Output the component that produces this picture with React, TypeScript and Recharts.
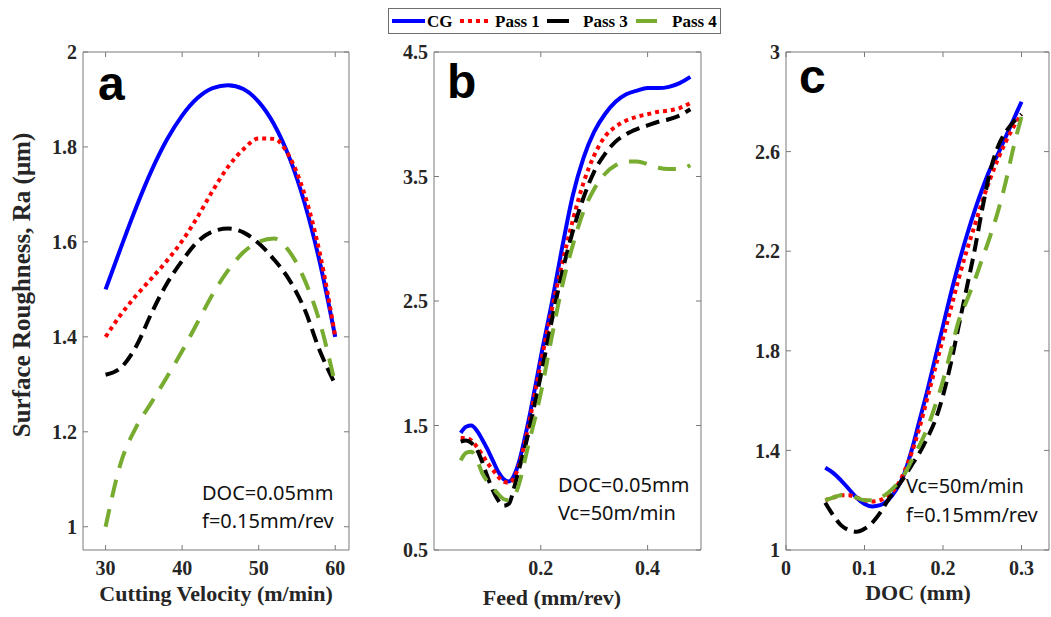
import React from 'react';
import { LineChart, Line, XAxis, YAxis, ReferenceLine } from 'recharts';

// ---- panel a: cutting velocity ----
const velocity = [30, 32, 34, 36, 38, 40, 42, 44, 46, 48, 50, 52, 54, 56, 58, 60];
const velCG = [1.5, 1.588, 1.673, 1.75, 1.815, 1.866, 1.903, 1.924, 1.93, 1.922, 1.895, 1.848, 1.778, 1.682, 1.556, 1.4];
const velPass1 = [1.4, 1.447, 1.487, 1.523, 1.56, 1.602, 1.652, 1.708, 1.758, 1.795, 1.818, 1.817, 1.78, 1.7, 1.575, 1.4];
const velPass3 = [1.32, 1.335, 1.38, 1.45, 1.512, 1.56, 1.6, 1.622, 1.628, 1.62, 1.597, 1.563, 1.52, 1.458, 1.37, 1.3];
const velPass4 = [1.0, 1.135, 1.21, 1.262, 1.315, 1.37, 1.43, 1.49, 1.54, 1.578, 1.6, 1.607, 1.58, 1.52, 1.43, 1.3];

// ---- panel b: feed ----
const feed = [0.05, 0.06, 0.07, 0.08, 0.09, 0.1, 0.11, 0.12, 0.13, 0.14, 0.15, 0.16, 0.17, 0.18, 0.19, 0.2,
  0.22, 0.24, 0.26, 0.28, 0.3, 0.32, 0.34, 0.36, 0.38, 0.4, 0.42, 0.44, 0.46, 0.48];
const feedCG = [1.44, 1.49, 1.5, 1.46, 1.39, 1.31, 1.22, 1.13, 1.07, 1.05, 1.1, 1.22, 1.4, 1.6, 1.82, 2.05,
  2.47, 2.93, 3.35, 3.65, 3.86, 4.0, 4.1, 4.16, 4.19, 4.21, 4.21, 4.22, 4.25, 4.3];
const feedPass1 = [1.4, 1.4, 1.38, 1.33, 1.27, 1.2, 1.145, 1.09, 1.05, 1.04, 1.08, 1.19, 1.36, 1.56, 1.78, 2.0,
  2.42, 2.8, 3.15, 3.45, 3.67, 3.82, 3.9, 3.95, 3.98, 4.0, 4.02, 4.03, 4.05, 4.09];
const feedPass3 = [1.37, 1.38, 1.36, 1.31, 1.21, 1.09, 0.98, 0.9, 0.855, 0.87, 1.0, 1.16, 1.32, 1.5, 1.7, 1.9,
  2.33, 2.73, 3.06, 3.33, 3.54, 3.68, 3.78, 3.84, 3.88, 3.91, 3.94, 3.96, 3.99, 4.04];
const feedPass4 = [1.22, 1.28, 1.29, 1.23, 1.12, 1.05, 1.0, 0.95, 0.91, 0.9, 0.93, 1.04, 1.22, 1.4, 1.57, 1.76,
  2.2, 2.62, 2.95, 3.22, 3.4, 3.52, 3.59, 3.62, 3.62, 3.6, 3.57, 3.56, 3.56, 3.59];

// ---- panel c: depth of cut ----
const doc = [0.05, 0.06, 0.07, 0.08, 0.09, 0.1, 0.11, 0.12, 0.13, 0.14, 0.15, 0.16, 0.17, 0.18, 0.19, 0.2,
  0.21, 0.22, 0.23, 0.24, 0.25, 0.26, 0.27, 0.28, 0.29, 0.3];
const docCG = [1.33, 1.31, 1.28, 1.245, 1.21, 1.185, 1.175, 1.18, 1.2, 1.24, 1.3, 1.4, 1.52, 1.64, 1.77, 1.9,
  2.03, 2.15, 2.26, 2.36, 2.45, 2.53, 2.59, 2.66, 2.73, 2.8];
const docPass1 = [1.2, 1.21, 1.22, 1.22, 1.21, 1.2, 1.195, 1.2, 1.22, 1.25, 1.31, 1.39, 1.49, 1.61, 1.73, 1.85,
  1.97, 2.09, 2.2, 2.3, 2.4, 2.49, 2.57, 2.64, 2.7, 2.75];
const docPass3 = [1.19, 1.14, 1.1, 1.08, 1.073, 1.085, 1.11, 1.15, 1.2, 1.245, 1.29, 1.34, 1.39, 1.45, 1.52, 1.62,
  1.75, 1.9, 2.05, 2.2, 2.37, 2.52, 2.62, 2.68, 2.72, 2.75];
const docPass4 = [1.2, 1.21, 1.22, 1.22, 1.21, 1.2, 1.2, 1.21, 1.23, 1.26, 1.3, 1.36, 1.42, 1.49, 1.58, 1.68,
  1.8, 1.92, 2.0, 2.08, 2.17, 2.26, 2.36, 2.48, 2.62, 2.74];

const SERIES = [
  { key: 'cg', name: 'CG', color: '#0000ff', dash: undefined as string | undefined },
  { key: 'p1', name: 'Pass 1', color: '#ff0000', dash: '4 4' },
  { key: 'p3', name: 'Pass 3', color: '#000000', dash: '14 7' },
  { key: 'p4', name: 'Pass 4', color: '#77ac30', dash: '18 12' },
];

const rows = (x: number[], cg: number[], p1: number[], p3: number[], p4: number[]) =>
  x.map((v, i) => ({ x: v, cg: cg[i], p1: p1[i], p3: p3[i], p4: p4[i] }));

const AXIS = '#7a7a7a';
const TICK_TXT = '#262626';
const SERIF = '"Liberation Serif", "Times New Roman", serif';
const H = 617;
const Y_W = 60;
const X_H = 60;

interface PanelProps {
  left: number;
  width: number;
  margin: { top: number; right: number; bottom: number; left: number };
  data: any[];
  xDomain: [number, number];
  xTicks: number[];
  yDomain: [number, number];
  yTicks: number[];
}

const Panel: React.FC<PanelProps> = ({ left, width, margin, data, xDomain, xTicks, yDomain, yTicks }) => {
  const pl = margin.left + Y_W;
  const pr = width - margin.right;
  const pt = margin.top;
  const pb = H - margin.bottom - X_H;
  const tickFont = { fontFamily: SERIF, fontWeight: 700, fontSize: 20, fill: TICK_TXT };

  // MATLAB style: inward ticks on both sides of the box
  const yTick = (p: any) => (
    <g>
      <line x1={pl} x2={pl + 5} y1={p.y} y2={p.y} stroke={AXIS} />
      <line x1={pr - 5} x2={pr} y1={p.y} y2={p.y} stroke={AXIS} />
      <text x={p.x} y={p.y} dy="0.36em" textAnchor="end" style={tickFont}>{p.payload.value}</text>
    </g>
  );
  const xTick = (p: any) => (
    <g>
      <line x1={p.x} x2={p.x} y1={pb} y2={pb - 5} stroke={AXIS} />
      <line x1={p.x} x2={p.x} y1={pt} y2={pt + 5} stroke={AXIS} />
      <text x={p.x} y={p.y} dy="0.71em" textAnchor="middle" style={tickFont}>{p.payload.value}</text>
    </g>
  );

  return (
    <div style={{ position: 'absolute', left, top: 0 }}>
      <LineChart width={width} height={H} data={data} margin={margin}>
        <XAxis dataKey="x" type="number" domain={xDomain} ticks={xTicks} interval={0} height={X_H}
          tickSize={0} tickMargin={11} tick={xTick} axisLine={{ stroke: AXIS }} allowDataOverflow />
        <YAxis type="number" domain={yDomain} ticks={yTicks} interval={0} width={Y_W}
          tickSize={0} tickMargin={6} tick={yTick} axisLine={{ stroke: AXIS }} allowDataOverflow />
        <ReferenceLine y={yDomain[1]} stroke={AXIS} />
        <ReferenceLine x={xDomain[1]} stroke={AXIS} />
        {SERIES.map(s => (
          <Line key={s.key} type="monotone" dataKey={s.key} stroke={s.color} strokeWidth={4}
            strokeDasharray={s.dash} strokeLinecap="butt" dot={false} activeDot={false}
            isAnimationActive={false} />
        ))}
      </LineChart>
    </div>
  );
};

const LEGEND_ITEMS = [
  { x1: 392, x2: 425, tx: 427 },
  { x1: 460, x2: 492, tx: 495 },
  { x1: 547, x2: 569, tx: 583 },
  { x1: 636, x2: 657, tx: 672 },
];

const App: React.FC = () => {
  const note = { fontFamily: '"Noto Sans", sans-serif', fontSize: 20, fill: '#111' };
  const title = { fontFamily: SERIF, fontWeight: 700, fontSize: 22, fill: TICK_TXT };
  const letter = { fontFamily: '"Liberation Sans", Arial, sans-serif', fontWeight: 700, fontSize: 48, fill: '#000' };

  return (
    <div style={{ position: 'absolute', left: 0, top: 0, width: 1051, height: H, background: '#fff' }}>
      <Panel left={0} width={360} margin={{ top: 52, right: 11, bottom: 7, left: 23 }}
        data={rows(velocity, velCG, velPass1, velPass3, velPass4)}
        xDomain={[27.05, 61.8]} xTicks={[30, 40, 50, 60]}
        yDomain={[0.951, 2]} yTicks={[1, 1.2, 1.4, 1.6, 1.8, 2]} />
      <Panel left={360} width={360} margin={{ top: 52, right: 19, bottom: 7, left: 14 }}
        data={rows(feed, feedCG, feedPass1, feedPass3, feedPass4)}
        xDomain={[0, 0.5]} xTicks={[0.2, 0.4]}
        yDomain={[0.5, 4.5]} yTicks={[0.5, 1.5, 2.5, 3.5, 4.5]} />
      <Panel left={720} width={331} margin={{ top: 52, right: 2, bottom: 7, left: 6 }}
        data={rows(doc, docCG, docPass1, docPass3, docPass4)}
        xDomain={[0, 0.335]} xTicks={[0, 0.1, 0.2, 0.3]}
        yDomain={[1, 3]} yTicks={[1, 1.4, 1.8, 2.2, 2.6, 3]} />

      <svg width={1051} height={H} style={{ position: 'absolute', left: 0, top: 0, pointerEvents: 'none' }}>
        {/* legend */}
        <rect x={388.5} y={8.5} width={332} height={25} fill="#fff" stroke="#6e6e6e" />
        {SERIES.map((s, i) => (
          <g key={s.key}>
            <line x1={LEGEND_ITEMS[i].x1} x2={LEGEND_ITEMS[i].x2} y1={21} y2={21} stroke={s.color}
              strokeWidth={4} strokeDasharray={s.key === 'p1' ? s.dash : undefined} />
            <text x={LEGEND_ITEMS[i].tx} y={27} style={{ fontFamily: SERIF, fontWeight: 700, fontSize: 17, fill: '#000' }}>
              {s.name}
            </text>
          </g>
        ))}

        {/* axis titles */}
        <text transform="translate(30,285) rotate(-90)" textAnchor="middle" style={{ ...title, fontSize: 25 }}>
          Surface Roughness, Ra (μm)
        </text>
        <text x={216} y={601} textAnchor="middle" style={title}>Cutting Velocity (m/min)</text>
        <text x={552} y={605} textAnchor="middle" style={title}>Feed (mm/rev)</text>
        <text x={918} y={600} textAnchor="middle" style={title}>DOC (mm)</text>

        {/* panel letters */}
        <text x={98} y={100} style={letter}>a</text>
        <text x={447} y={98} style={letter}>b</text>
        <text x={799} y={93} style={letter}>c</text>

        {/* cutting conditions */}
        <text x={202} y={500} style={note}>DOC=0.05mm</text>
        <text x={202} y={528} style={note}>f=0.15mm/rev</text>
        <text x={558} y={492} style={note}>DOC=0.05mm</text>
        <text x={558} y={520} style={note}>Vc=50m/min</text>
        <text x={906} y={493} style={note}>Vc=50m/min</text>
        <text x={906} y={522} style={note}>f=0.15mm/rev</text>
      </svg>
    </div>
  );
};

export default App;
